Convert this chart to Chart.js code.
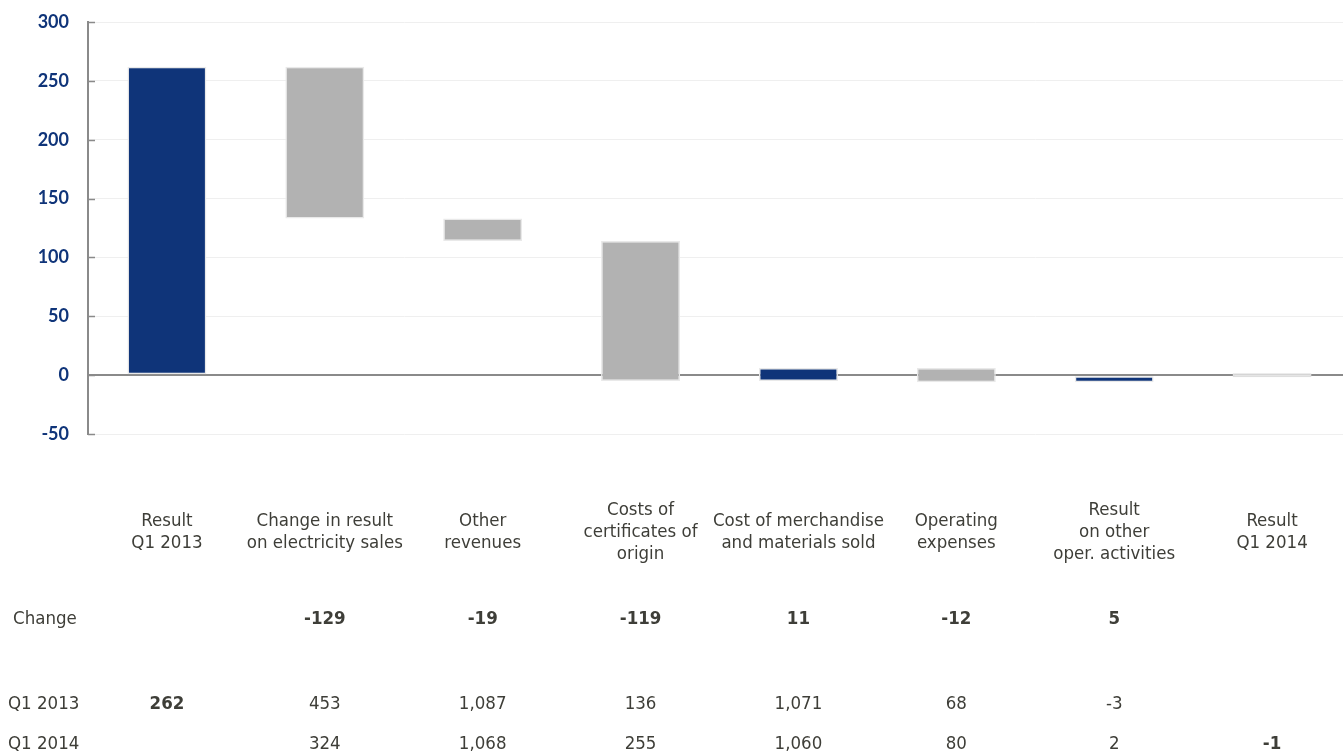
<!DOCTYPE html>
<html>
<head>
<meta charset="utf-8">
<title>Result bridge Q1 2013 – Q1 2014</title>
<script src="https://cdn.jsdelivr.net/npm/chart.js@4/dist/chart.umd.min.js"></script>
<style>
  html, body { margin: 0; padding: 0; background: #fff; overflow: hidden; }
  #wrap { position: absolute; left: 0; top: 0; width: 1351px; height: 755px; }
</style>
</head>
<body>
<div id="wrap"><canvas id="chart"></canvas></div>
<script>
// Categories of the result bridge (multi-line labels)
const categories = [
  ['Result', 'Q1 2013'],
  ['Change in result', 'on electricity sales'],
  ['Other', 'revenues'],
  ['Costs of', 'certificates of', 'origin'],
  ['Cost of merchandise', 'and materials sold'],
  ['Operating', 'expenses'],
  ['Result', 'on other', 'oper. activities'],
  ['Result', 'Q1 2014']
];

// Floating bar ranges (low / high end of each step)
const barLow  = [0, 133, 114, -5, -5, -6, -6, -1];
const barHigh = [262, 262, 133, 114, 6, 6, -1, 0];

// Bar fill kind: 'up' (dark blue), 'down' (grey), 'total' (blank end result)
const barKind = ['up', 'down', 'down', 'down', 'up', 'down', 'up', 'total'];

// Table rows under the chart
const changeRow = [null, -129, -19, -119, 11, -12, 5, null];
const q12013Row = [262, 453, 1087, 136, 1071, 68, -3, null];
const q12014Row = [null, 324, 1068, 255, 1060, 80, 2, -1];
const boldQ12013 = [true, false, false, false, false, false, false, false];
const boldQ12014 = [false, false, false, false, false, false, false, true];

// Y axis ticks
const yTicks = [-50, 0, 50, 100, 150, 200, 250, 300];

const BLUE = '#0f3479';
const GREY = '#b2b2b2';
const TEXT = '#3e3e38';
const LABEL_FONT = "'Liberation Sans Narrow', 'DejaVu Sans Condensed', 'Roboto', sans-serif";
const LABEL_SIZE = 18.5;

const fills = barKind.map(k => k === 'up' ? BLUE : k === 'down' ? GREY : '#fcfcfc');
const borders = barKind.map(k => k === 'total' ? '#dedede' : '#e9e9e9');

const fmt = v => v === null ? '' : v.toLocaleString('en-US');

// Small inward tick marks on the value axis
const innerTicks = {
  id: 'innerTicks',
  afterDatasetsDraw(chart) {
    const y = chart.scales.y;
    const ctx = chart.ctx;
    ctx.save();
    ctx.strokeStyle = '#8a8a8a';
    ctx.lineWidth = 1.5;
    yTicks.forEach(v => {
      const py = Math.round(y.getPixelForValue(v)) + 0.5;
      ctx.beginPath();
      ctx.moveTo(y.right, py);
      ctx.lineTo(y.right + 7, py);
      ctx.stroke();
    });
    ctx.restore();
  }
};

// Value table drawn under the category labels
const valueTable = {
  id: 'valueTable',
  afterDraw(chart) {
    const x = chart.scales.x;
    const ctx = chart.ctx;
    const base = x.bottom;
    const rows = [
      { label: 'Change', lx: 13, y: base + 43, values: changeRow, bold: changeRow.map(() => true) },
      { label: 'Q1 2013', lx: 8, y: base + 128, values: q12013Row, bold: boldQ12013 },
      { label: 'Q1 2014', lx: 8, y: base + 168, values: q12014Row, bold: boldQ12014 }
    ];
    ctx.save();
    ctx.fillStyle = TEXT;
    ctx.textBaseline = 'middle';
    rows.forEach(r => {
      ctx.font = LABEL_SIZE + 'px ' + LABEL_FONT;
      ctx.textAlign = 'left';
      ctx.fillText(r.label, r.lx, r.y);
      ctx.textAlign = 'center';
      r.values.forEach((v, i) => {
        if (v === null) return;
        ctx.font = (r.bold[i] ? 'bold ' : '') + LABEL_SIZE + 'px ' + LABEL_FONT;
        ctx.fillText(fmt(v), x.getPixelForValue(i), r.y);
      });
    });
    ctx.restore();
  }
};

new Chart(document.getElementById('chart'), {
  type: 'bar',
  data: {
    labels: categories,
    datasets: [{
      data: barLow.map((lo, i) => [lo, barHigh[i]]),
      backgroundColor: fills,
      borderColor: borders,
      borderWidth: 1.5,
      borderSkipped: false,
      minBarLength: 4,
      categoryPercentage: 1,
      barPercentage: 0.5
    }]
  },
  options: {
    responsive: true,
    maintainAspectRatio: false,
    animation: false,
    layout: { padding: { top: 22, bottom: 179, left: 0, right: 0 } },
    plugins: {
      legend: { display: false },
      tooltip: { enabled: false }
    },
    scales: {
      x: {
        afterFit: s => { s.height = 142; },
        grid: { display: false, drawTicks: true, tickLength: 74 },
        border: { display: false },
        ticks: {
          autoSkip: false,
          maxRotation: 0,
          minRotation: 0,
          crossAlign: 'center',
          padding: 2,
          color: TEXT,
          font: { family: LABEL_FONT, size: LABEL_SIZE, lineHeight: '22px' }
        }
      },
      y: {
        min: -50,
        max: 300,
        afterBuildTicks: s => { s.ticks = yTicks.map(v => ({ value: v })); },
        afterFit: s => { s.width = 88; },
        grid: {
          drawTicks: true,
          tickLength: 19,
          tickColor: 'rgba(0,0,0,0)',
          color: c => c.tick && c.tick.value === 0 ? '#8a8a8a' : '#efefef',
          lineWidth: c => c.tick && c.tick.value === 0 ? 2 : 1
        },
        border: { display: true, color: '#8a8a8a', width: 2 },
        ticks: {
          padding: 0,
          color: BLUE,
          font: { family: 'Lato, sans-serif', size: 18, weight: 'bold' }
        }
      }
    }
  },
  plugins: [innerTicks, valueTable]
});
</script>
</body>
</html>
